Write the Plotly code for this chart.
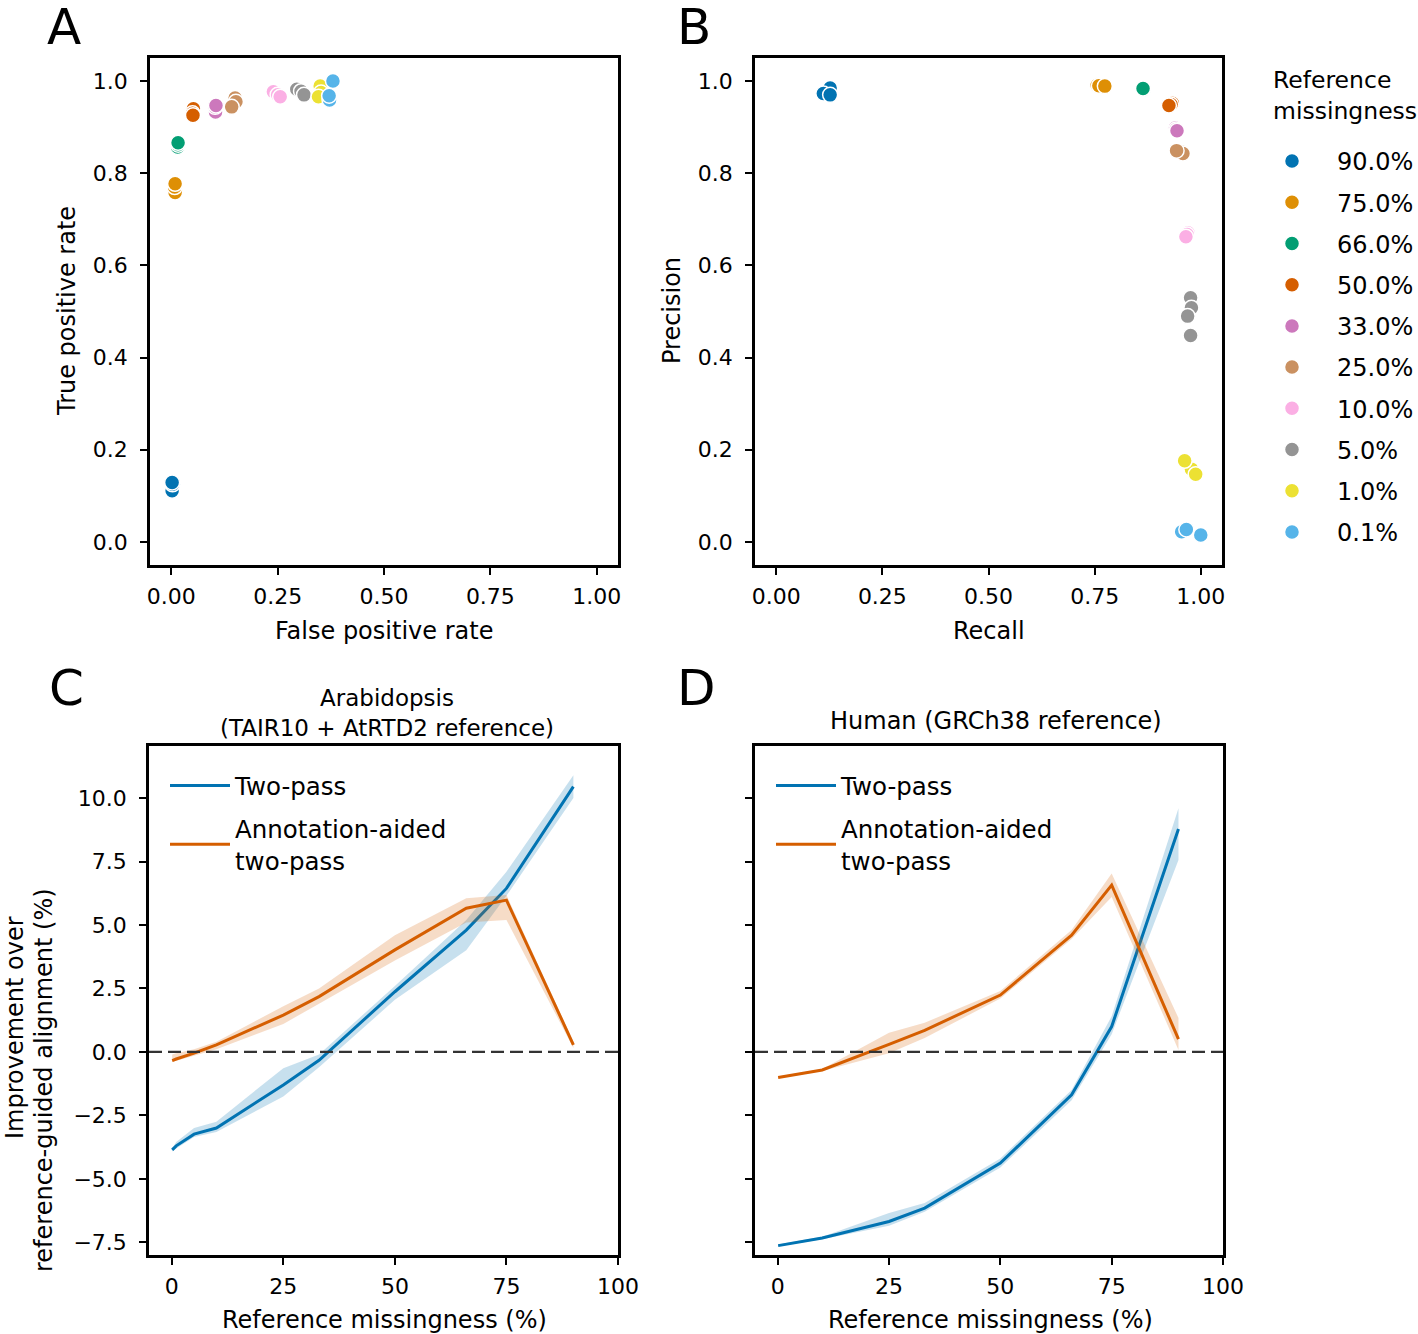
import plotly.graph_objects as go

# ---------------- data ----------------
level_labels = ["90.0%", "75.0%", "66.0%", "50.0%", "33.0%", "25.0%", "10.0%", "5.0%", "1.0%", "0.1%"]
level_colors = ["#0173B2", "#DE8F05", "#029E73", "#D55E00", "#CC78BC",
                "#CA9161", "#FBAFE4", "#949494", "#ECE133", "#56B4E9"]

# Panel A: false positive rate / true positive rate (replicates per level)
a_fpr = [[0.002, 0.003, 0.002], [0.009, 0.008, 0.009], [0.015, 0.016, 0.016],
         [0.052, 0.050, 0.051], [0.104, 0.103, 0.105], [0.150, 0.152, 0.142],
         [0.240, 0.250, 0.256], [0.295, 0.305, 0.312], [0.350, 0.352, 0.346],
         [0.372, 0.380, 0.371]]
a_tpr = [[0.111, 0.125, 0.129], [0.758, 0.770, 0.777], [0.857, 0.862, 0.866],
         [0.940, 0.930, 0.926], [0.933, 0.944, 0.947], [0.963, 0.955, 0.944],
         [0.977, 0.970, 0.966], [0.982, 0.978, 0.970], [0.989, 0.975, 0.966],
         [0.959, 1.000, 0.968]]

# Panel B: recall / precision
b_recall = [[0.127, 0.111, 0.127], [0.756, 0.760, 0.774], [0.862, 0.865, 0.864],
            [0.933, 0.930, 0.925], [0.940, 0.942, 0.944], [0.955, 0.958, 0.943],
            [0.970, 0.968, 0.965], [0.976, 0.978, 0.969, 0.976], [0.978, 0.988, 0.962],
            [0.955, 1.000, 0.966]]
b_precision = [[0.985, 0.973, 0.970], [0.991, 0.990, 0.989], [0.985, 0.983, 0.984],
               [0.952, 0.949, 0.947], [0.898, 0.895, 0.892], [0.846, 0.843, 0.849],
               [0.671, 0.667, 0.662], [0.530, 0.508, 0.490, 0.448], [0.158, 0.147, 0.176],
               [0.022, 0.015, 0.027]]

# Panels C/D: improvement over reference-guided alignment (%)
missingness = [0.1, 1, 5, 10, 25, 33, 50, 66, 75, 90]

c_two_mean = [-3.86, -3.70, -3.24, -3.00, -1.30, -0.33, 2.37, 4.80, 6.44, 10.45]
c_two_low = [-3.92, -3.80, -3.35, -3.15, -1.76, -0.60, 2.05, 4.00, 6.15, 10.00]
c_two_high = [-3.80, -3.55, -3.00, -2.75, -0.64, -0.10, 2.60, 5.20, 7.10, 10.90]
c_ann_mean = [-0.34, -0.28, -0.05, 0.28, 1.45, 2.18, 4.02, 5.66, 5.98, 0.28]
c_ann_low = [-0.40, -0.35, -0.15, 0.10, 1.10, 1.90, 3.60, 5.10, 5.20, 0.15]
c_ann_high = [-0.10, -0.05, 0.10, 0.40, 1.80, 2.50, 4.60, 6.05, 6.18, 0.40]

d_two_mean = [-7.63, -7.60, -7.48, -7.33, -6.68, -6.15, -4.38, -1.69, 1.00, 8.78]
d_two_low = [-7.66, -7.63, -7.52, -7.38, -6.85, -6.30, -4.55, -1.90, 0.70, 7.56]
d_two_high = [-7.60, -7.56, -7.43, -7.28, -6.35, -5.95, -4.20, -1.50, 1.40, 9.60]
d_ann_mean = [-1.01, -0.98, -0.86, -0.71, 0.30, 0.85, 2.24, 4.60, 6.57, 0.50]
d_ann_low = [-1.05, -1.02, -0.90, -0.75, -0.05, 0.55, 2.10, 4.45, 6.10, 0.08]
d_ann_high = [-0.97, -0.94, -0.82, -0.67, 0.75, 1.15, 2.40, 4.80, 7.03, 1.34]

series_names = ["Two-pass", "Annotation-aided<br>two-pass"]
x_ticks_rate = [0, 0.25, 0.5, 0.75, 1.0]
y_ticks_rate = [0, 0.2, 0.4, 0.6, 0.8, 1.0]
x_ticks_miss = [0, 25, 50, 75, 100]
y_ticks_imp = [-7.5, -5.0, -2.5, 0.0, 2.5, 5.0, 7.5, 10.0]

# ---------------- figure ----------------
W, H = 1418, 1334
FONT = "DejaVu Sans"
BLUE = "#0173B2"
ORANGE = "#D55E00"
LAB = 24      # label font size
LEG = 24.5    # legend font size


def px_x(p):
    return p / W


def px_y(p):
    return 1 - p / H


fig = go.Figure()

for i, lab in enumerate(level_labels):
    fig.add_trace(go.Scatter(
        x=a_fpr[i], y=a_tpr[i], mode="markers", name=lab, legendgroup=lab,
        legend="legend3", showlegend=True, xaxis="x", yaxis="y",
        marker=dict(color=level_colors[i], size=15, line=dict(color="white", width=1.5))))
    fig.add_trace(go.Scatter(
        x=b_recall[i], y=b_precision[i], mode="markers", name=lab, legendgroup=lab,
        legend="legend3", showlegend=False, xaxis="x2", yaxis="y2",
        marker=dict(color=level_colors[i], size=15, line=dict(color="white", width=1.5))))


def add_band(xa, ya, low, high, color_rgba):
    fig.add_trace(go.Scatter(
        x=missingness + missingness[::-1], y=high + low[::-1], fill="toself",
        fillcolor=color_rgba, line=dict(width=0), mode="lines", hoverinfo="skip",
        showlegend=False, xaxis=xa, yaxis=ya))


for xa, ya, leg, tag, data in [
    ("x3", "y3", "legend", "c", (c_two_mean, c_two_low, c_two_high, c_ann_mean, c_ann_low, c_ann_high)),
    ("x4", "y4", "legend2", "d", (d_two_mean, d_two_low, d_two_high, d_ann_mean, d_ann_low, d_ann_high)),
]:
    tm, tl, th, am, al, ah = data
    add_band(xa, ya, tl, th, "rgba(1,115,178,0.22)")
    fig.add_trace(go.Scatter(x=missingness, y=tm, mode="lines", name=series_names[0],
                             legendgroup=tag + "two",
                             line=dict(color=BLUE, width=3), legend=leg, xaxis=xa, yaxis=ya))
    add_band(xa, ya, al, ah, "rgba(213,94,0,0.22)")
    fig.add_trace(go.Scatter(x=missingness, y=am, mode="lines", name=series_names[1],
                             legendgroup=tag + "ann",
                             line=dict(color=ORANGE, width=3), legend=leg, xaxis=xa, yaxis=ya))

axis_common = dict(showline=True, linecolor="black", linewidth=2.5, mirror=True,
                   ticks="outside", ticklen=7, tickwidth=2, tickcolor="black",
                   showgrid=False, zeroline=False,
                   tickfont=dict(family=FONT, size=22, color="black"))
xax = dict(ticklabelstandoff=3, **axis_common)
yax = dict(ticklabelstandoff=8, **axis_common)

fig.update_layout(
    width=W, height=H, autosize=False,
    margin=dict(l=0, r=0, t=0, b=0, autoexpand=False),
    plot_bgcolor="white", paper_bgcolor="white",
    font=dict(family=FONT, size=22, color="black"),
    xaxis=dict(domain=[px_x(150), px_x(618)], anchor="y", range=[-0.05, 1.05],
               tickvals=x_ticks_rate, tickformat=".2f", **xax),
    yaxis=dict(domain=[px_y(565), px_y(58)], anchor="x", range=[-0.05, 1.05],
               tickvals=y_ticks_rate, tickformat=".1f", **yax),
    xaxis2=dict(domain=[px_x(755), px_x(1222)], anchor="y2", range=[-0.05, 1.05],
                tickvals=x_ticks_rate, tickformat=".2f", **xax),
    yaxis2=dict(domain=[px_y(565), px_y(58)], anchor="x2", range=[-0.05, 1.05],
                tickvals=y_ticks_rate, tickformat=".1f", **yax),
    xaxis3=dict(domain=[px_x(149), px_x(618)], anchor="y3", range=[-5.1, 100],
                tickvals=x_ticks_miss, **xax),
    yaxis3=dict(domain=[px_y(1255), px_y(746)], anchor="x3", range=[-8.0, 12.05],
                tickvals=y_ticks_imp, tickformat=".1f", **yax),
    xaxis4=dict(domain=[px_x(755), px_x(1223)], anchor="y4", range=[-5.1, 100],
                tickvals=x_ticks_miss, **xax),
    yaxis4=dict(domain=[px_y(1255), px_y(746)], anchor="x4", range=[-8.0, 12.05],
                tickvals=y_ticks_imp, showticklabels=False, matches="y3", **yax),
    legend=dict(x=px_x(165), y=px_y(763), xanchor="left", yanchor="top",
                bgcolor="rgba(0,0,0,0)", font=dict(family=FONT, size=LEG, color="black"),
                itemwidth=60, tracegroupgap=8),
    legend2=dict(x=px_x(771), y=px_y(763), xanchor="left", yanchor="top",
                 bgcolor="rgba(0,0,0,0)", font=dict(family=FONT, size=LEG, color="black"),
                 itemwidth=60, tracegroupgap=8),
    legend3=dict(x=px_x(1247), y=px_y(139), xanchor="left", yanchor="top",
                 bgcolor="rgba(0,0,0,0)", font=dict(family=FONT, size=24, color="black"),
                 itemwidth=80, tracegroupgap=7, itemsizing="trace"),
    showlegend=True,
)

# dashed zero lines
for xa, ya in [("x3", "y3"), ("x4", "y4")]:
    fig.add_shape(type="line", xref=f"{xa} domain", yref=ya, x0=0, x1=1, y0=0, y1=0,
                  line=dict(color="#333333", width=2.2, dash="13px,6px"))

annots = [
    ("A", 64, 27, 50, 0, "center"), ("B", 694, 27, 50, 0, "center"),
    ("C", 66, 688, 50, 0, "center"), ("D", 696, 688, 50, 0, "center"),
    ("True positive rate", 67, 311, LAB, -90, "center"), ("Precision", 672, 311, LAB, -90, "center"),
    ("False positive rate", 384, 631, LAB, 0, "center"), ("Recall", 989, 631, LAB, 0, "center"),
    ("Reference missingness (%)", 384, 1320, LAB, 0, "center"),
    ("Reference missingness (%)", 990, 1320, LAB, 0, "center"),
    ("Improvement over", 15, 1028, LAB, -90, "center"),
    ("reference-guided alignment (%)", 44, 1080, LAB, -90, "center"),
    ("Arabidopsis<br>(TAIR10 + AtRTD2 reference)", 387, 713, 23, 0, "center"),
    ("Human (GRCh38 reference)", 996, 721, LAB, 0, "center"),
    ("Reference", 1271, 80, 23.5, 0, "left"), ("missingness", 1271, 111, 23.5, 0, "left"),
]
for text, x, y, size, ang, xa in annots:
    fig.add_annotation(text=text, x=px_x(x), y=px_y(y), xref="paper", yref="paper",
                       xanchor=xa, yanchor="middle", showarrow=False, textangle=ang,
                       font=dict(family=FONT, size=size, color="black"))

post = ("document.body.style.margin='0px';"
        "document.body.style.overflow='hidden';"
        "var gd=document.getElementById('{plot_id}');"
        "Plotly.relayout(gd,{width:%d,height:%d});" % (W, H))
fig.write_html("out.html", config={"displayModeBar": False}, post_script=post)
